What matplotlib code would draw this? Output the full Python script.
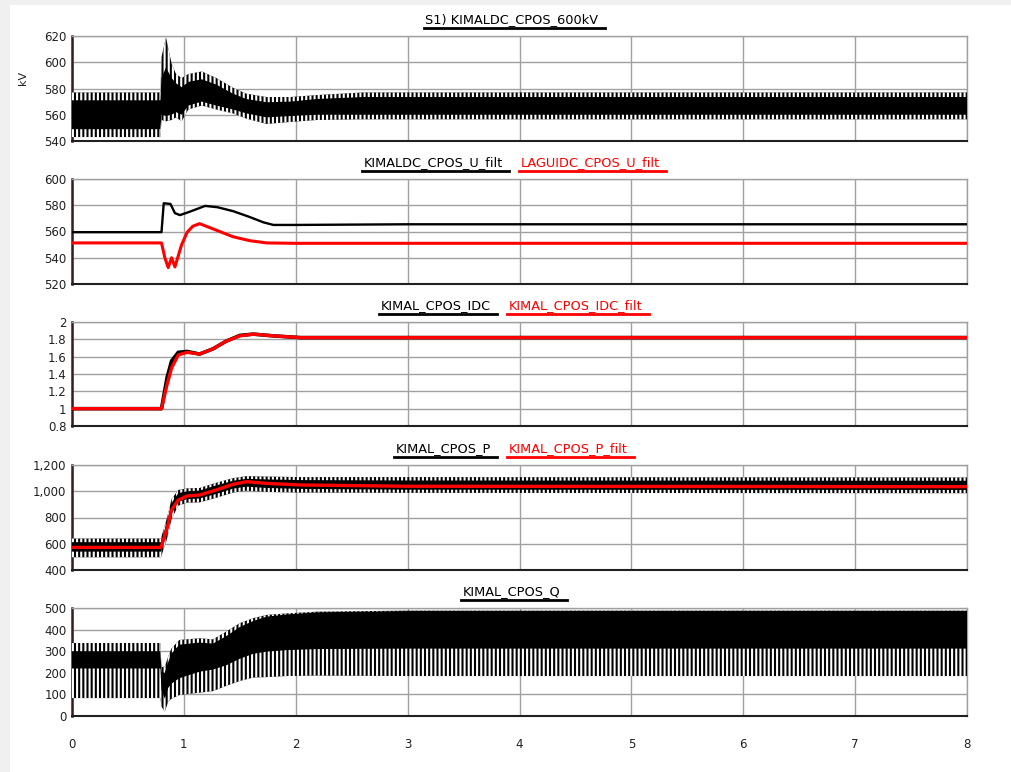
import matplotlib
matplotlib.use("Agg")
import matplotlib.pyplot as plt
from matplotlib.lines import Line2D
from matplotlib.patches import Rectangle

plt.rcParams['font.family'] = ['DejaVu Sans']
plt.rcParams['hatch.linewidth'] = 1.5

# ---------------- data ----------------
x_ticks = [0, 1, 2, 3, 4, 5, 6, 7, 8]

# Panel 1: KIMALDC_CPOS_600kV (oscillating) - envelopes
t_v1 = [0, 0.79, 0.80, 0.84, 0.89, 0.93, 0.98, 1.04, 1.16, 1.29, 1.44, 1.56, 1.74, 1.95, 2.19, 2.6, 8.0]
v1_hi = [577, 577, 604, 619, 599, 591, 588, 591, 593, 588, 580.5, 576, 573.5, 573.5, 575, 577, 577]
v1_lo = [543, 543, 556, 555, 556, 558, 555, 564, 567, 564, 561, 557, 553, 554.5, 556, 556.5, 556.5]
v1_core_hi = [571, 571, 588, 596, 588, 584, 581, 585, 587, 583, 576, 572, 569.5, 570, 572, 573.5, 573.5]
v1_core_lo = [549, 549, 560, 559, 560, 562, 560, 567, 570, 567, 564, 561, 558, 559, 560, 560, 560]
v1_ticks = [540, 560, 580, 600, 620]

# Panel 2: filtered DC voltages
t_u1 = [0, 0.80, 0.82, 0.88, 0.92, 0.965, 1.05, 1.19, 1.30, 1.44, 1.59, 1.71, 1.80, 2.0, 3.0, 8.0]
u_kimal = [559.5, 559.5, 581.5, 581, 574, 572.5, 575, 579.5, 578.5, 575.5, 571, 567, 565, 565, 565.5, 565.5]
t_u2 = [0, 0.80, 0.83, 0.86, 0.89, 0.92, 0.98, 1.03, 1.08, 1.14, 1.29, 1.44, 1.59, 1.74, 2.0, 8.0]
u_lagui = [551.3, 551.3, 540, 532.5, 540, 533, 550, 559.5, 564, 566, 561, 556, 553, 551.3, 551, 551]
u_ticks = [520, 540, 560, 580, 600]

# Panel 3: DC current
t_i = [0, 0.80, 0.85, 0.89, 0.95, 1.03, 1.14, 1.26, 1.38, 1.50, 1.62, 1.80, 2.04, 8.0]
idc = [1.0, 1.0, 1.36, 1.55, 1.65, 1.66, 1.63, 1.69, 1.78, 1.845, 1.86, 1.84, 1.82, 1.82]
idc_filt = [1.0, 1.0, 1.28, 1.47, 1.62, 1.65, 1.63, 1.69, 1.78, 1.84, 1.86, 1.84, 1.82, 1.82]
i_ticks = [0.8, 1.0, 1.2, 1.4, 1.6, 1.8, 2.0]
i_ticklabels = ['0.8', '1', '1.2', '1.4', '1.6', '1.8', '2']

# Panel 4: active power
t_p = [0, 0.795, 0.85, 0.89, 0.95, 1.03, 1.14, 1.29, 1.44, 1.56, 1.74, 2.04, 3.0, 8.0]
p_filt = [572, 572, 717, 857, 933, 964, 971, 1010, 1053, 1073, 1060, 1048, 1038, 1035]
p_hi = [640, 640, 800, 940, 1010, 1022, 1025, 1065, 1100, 1115, 1112, 1108, 1108, 1105]
p_lo = [497, 497, 640, 790, 890, 913, 915, 950, 990, 1004, 995, 990, 988, 985]
p_core_hi = [612, 612, 770, 910, 985, 1000, 1005, 1045, 1080, 1095, 1090, 1085, 1082, 1080]
p_core_lo = [540, 540, 680, 830, 920, 940, 945, 980, 1020, 1035, 1025, 1018, 1012, 1010]
p_ticks = [400, 600, 800, 1000, 1200]
p_ticklabels = ['400', '600', '800', '1,000', '1,200']

# Panel 5: reactive power (oscillating)
t_q = [0, 0.79, 0.80, 0.83, 0.86, 0.89, 0.96, 1.14, 1.26, 1.38, 1.50, 1.62, 1.74, 1.92, 2.19, 3.0, 8.0]
q_hi = [338, 338, 225, 230, 275, 314, 352, 360, 355, 391, 430, 453, 468, 475, 483, 488, 488]
q_lo = [83, 83, 43, 20, 67, 80, 97, 108, 115, 140, 162, 178, 180, 185, 187, 185, 185]
q_core_hi = [300, 300, 205, 200, 250, 290, 330, 340, 335, 370, 412, 440, 460, 470, 480, 486, 486]
q_core_lo = [220, 220, 120, 80, 130, 150, 175, 205, 215, 235, 265, 288, 298, 305, 310, 312, 312]
q_ticks = [0, 100, 200, 300, 400, 500]

titles = [
    [("S1) KIMALDC_CPOS_600kV", "black")],
    [("KIMALDC_CPOS_U_filt", "black"), ("LAGUIDC_CPOS_U_filt", "red")],
    [("KIMAL_CPOS_IDC", "black"), ("KIMAL_CPOS_IDC_filt", "red")],
    [("KIMAL_CPOS_P", "black"), ("KIMAL_CPOS_P_filt", "red")],
    [("KIMAL_CPOS_Q", "black")],
]

# ---------------- layout ----------------
W, H = 1012, 772
fig = plt.figure(figsize=(W / 100, H / 100), dpi=100, facecolor='#f0f0f0')
fig.patches.append(Rectangle((10 / W, 0), 1 - 10 / W, 1 - 5 / H, transform=fig.transFigure,
                             facecolor='white', edgecolor='none', zorder=-10))

panels_px = [(36, 141), (179, 284), (322, 426), (465, 570), (608, 716)]
left_px, right_px = 72, 967
axes = []
for top, bot in panels_px:
    ax = fig.add_axes([left_px / W, 1 - bot / H, (right_px - left_px) / W, (bot - top) / H])
    ax.set_facecolor('white')
    ax.set_xlim(0, 8)
    ax.set_xticks(x_ticks)
    ax.grid(True, color='#a0a0a0', linewidth=1.0)
    ax.set_axisbelow(True)
    for s in ('top', 'right'):
        ax.spines[s].set_color('#a0a0a0')
        ax.spines[s].set_linewidth(1.0)
    ax.spines['left'].set_color('#3a1c1c')
    ax.spines['left'].set_linewidth(1.8)
    ax.spines['bottom'].set_color('#202020')
    ax.spines['bottom'].set_linewidth(1.5)
    ax.tick_params(length=0, labelsize=8.5, pad=4, colors='#202020')
    axes.append(ax)

for ax in axes[:-1]:
    ax.tick_params(labelbottom=False)
axes[-1].tick_params(axis='x', pad=16)


def osc_band(ax, t, lo, hi, clo, chi):
    ax.fill_between(t, lo, hi, facecolor='black', edgecolor='white', hatch='||||',
                    linewidth=0, zorder=3)
    ax.fill_between(t, clo, chi, facecolor='black', edgecolor='none', linewidth=0, zorder=4)


# Panel 1
ax = axes[0]
osc_band(ax, t_v1, v1_lo, v1_hi, v1_core_lo, v1_core_hi)
ax.set_ylim(540, 620)
ax.set_yticks(v1_ticks)

# Panel 2
ax = axes[1]
ax.plot(t_u1, u_kimal, color='black', lw=1.7, zorder=4)
ax.plot(t_u2, u_lagui, color='red', lw=2.2, zorder=4)
ax.set_ylim(520, 600)
ax.set_yticks(u_ticks)

# Panel 3
ax = axes[2]
ax.plot(t_i, idc, color='black', lw=2.6, zorder=4)
ax.plot(t_i, idc_filt, color='red', lw=2.4, zorder=5)
ax.set_ylim(0.8, 2.0)
ax.set_yticks(i_ticks)
ax.set_yticklabels(i_ticklabels)

# Panel 4
ax = axes[3]
osc_band(ax, t_p, p_lo, p_hi, p_core_lo, p_core_hi)
ax.plot(t_p, p_filt, color='red', lw=2.4, zorder=5)
ax.set_ylim(400, 1200)
ax.set_yticks(p_ticks)
ax.set_yticklabels(p_ticklabels)

# Panel 5
ax = axes[4]
osc_band(ax, t_q, q_lo, q_hi, q_core_lo, q_core_hi)
ax.set_ylim(0, 500)
ax.set_yticks(q_ticks)

fig.text(23 / W, 1 - 78 / H, 'kV', rotation=90, ha='center', va='center', fontsize=8,
         color='#202020')

# ---------------- underlined titles / legends ----------------
center_px = 515
gap_px = 12
text_objs = []
for (top, bot), items in zip(panels_px, titles):
    objs = []
    for label, color in items:
        tx = fig.text(0, 1 - (top - 16) / H, label, color=color, fontsize=9.3,
                      ha='left', va='center')
        objs.append(tx)
    text_objs.append((top, objs))

fig.canvas.draw()
renderer = fig.canvas.get_renderer()
for top, objs in text_objs:
    widths = [o.get_window_extent(renderer).width for o in objs]
    total = sum(widths) + gap_px * (len(widths) - 1) + 6 * len(widths)
    x = center_px - total / 2
    for o, w in zip(objs, widths):
        o.set_x(x / W)
        y_ul = 1 - (top - 8) / H
        fig.add_artist(Line2D([(x - 2) / W, (x + w + 6) / W], [y_ul, y_ul],
                              transform=fig.transFigure, color=o.get_color(), lw=2.0))
        x += w + 6 + gap_px

fig.savefig('out.png', dpi=100, facecolor=fig.get_facecolor())
